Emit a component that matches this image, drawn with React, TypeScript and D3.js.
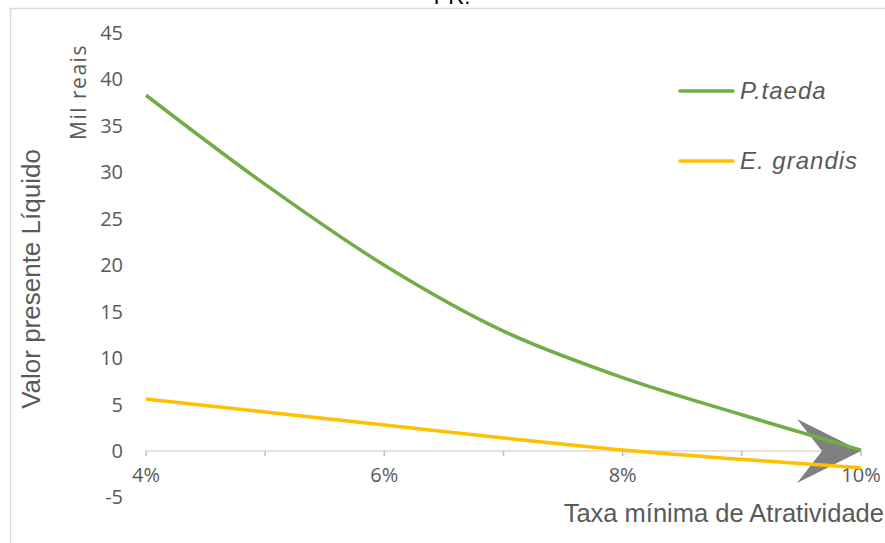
import React from "react";
import * as d3 from "d3";

const rates = [4, 5, 6, 7, 8, 9, 10];
const pTaeda = [38.3, 28.7, 20.0, 12.9, 7.9, 3.9, 0.1];
const eGrandis = [5.6, 4.2, 2.8, 1.4, 0.1, -0.9, -1.8];
const yTicks = [-5, 0, 5, 10, 15, 20, 25, 30, 35, 40, 45];
const xLabelTicks = [4, 6, 8, 10];
const seriesNames = ["P.taeda", "E. grandis"];
const seriesColors = ["#70AD47", "#FFC000"];

export default function App() {
  const W = 885, H = 543;
  const x = d3.scaleLinear().domain([4, 10]).range([146, 861]);
  const y = d3.scaleLinear().domain([0, 45]).range([451, 33]);
  const line = d3
    .line<number>()
    .x((_, i) => x(rates[i]))
    .y((d) => y(d))
    .curve(d3.curveCatmullRom.alpha(0.5));
  const series = [pTaeda, eGrandis];
  const axisY = y(0);
  const tip = x(10);
  const arrow = `M${tip - 64},${axisY - 32} L${tip},${axisY} L${tip - 64},${axisY + 32} L${tip - 39},${axisY} Z`;
  const txt = "#595959";
  return (
    <svg
      width={W}
      height={H}
      style={{ position: "absolute", left: 0, top: 0, background: "#fff" }}
    >
      <rect x={10.5} y={8.5} width={900} height={600} fill="#fff" stroke="#d9d9d9" strokeWidth={1.5} />
      <text x={452} y={4} textAnchor="middle" fontFamily="Arial, Liberation Sans" fontSize={22} fill="#000">
        PR.
      </text>
      {/* axis */}
      <line x1={x(4)} x2={x(10)} y1={axisY} y2={axisY} stroke="#d9d9d9" strokeWidth={1.5} />
      {rates.map((r) => (
        <line key={r} x1={x(r)} x2={x(r)} y1={axisY} y2={axisY + 5} stroke="#bfbfbf" strokeWidth={1.5} />
      ))}
      {yTicks.map((t) => (
        <text
          key={t}
          x={123}
          y={y(t)}
          dy="0.35em"
          textAnchor="end"
          fontFamily="Open Sans, sans-serif"
          fontSize={20}
          fill={txt}
        >
          {t}
        </text>
      ))}
      {xLabelTicks.map((t) => (
        <text
          key={t}
          x={x(t)}
          y={axisY + 24}
          dy="0.35em"
          textAnchor="middle"
          fontFamily="Open Sans, sans-serif"
          fontSize={20}
          fill={txt}
        >
          {t}%
        </text>
      ))}
      <path d={arrow} fill="#808080" />
      {series.map((s, i) => (
        <path key={i} d={line(s) || ""} fill="none" stroke={seriesColors[i]} strokeWidth={3.5} />
      ))}
      {seriesNames.map((n, i) => (
        <g key={n} transform={`translate(680, ${91 + i * 70})`}>
          <line x1={0} x2={53} y1={0} y2={0} stroke={seriesColors[i]} strokeWidth={3.5} strokeLinecap="round" />
          <text x={60} y={0} dy="0.35em" fontFamily="Arial, Liberation Sans" fontStyle="italic" fontSize={24} letterSpacing={1} fill={txt}>
            {n}
          </text>
        </g>
      ))}
      <text
        transform="translate(40, 279) rotate(-90)"
        textAnchor="middle"
        fontFamily="Arial, Liberation Sans"
        fontSize={26}
        fill={txt}
      >
        Valor presente Líquido
      </text>
      <text
        transform="translate(86, 92) rotate(-90)"
        textAnchor="middle"
        fontFamily="Open Sans, sans-serif"
        fontSize={21}
        letterSpacing={1.5}
        fill={txt}
      >
        Mil reais
      </text>
      <text x={884} y={522} textAnchor="end" fontFamily="Arial, Liberation Sans" fontSize={25.5} fill={txt}>
        Taxa mínima de Atratividade
      </text>
    </svg>
  );
}
